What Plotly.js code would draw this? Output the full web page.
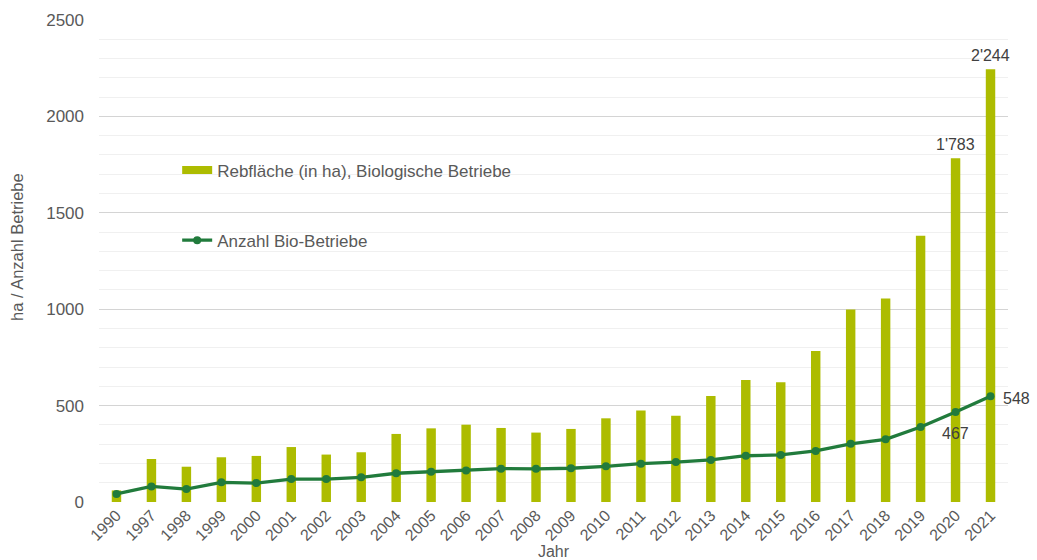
<!DOCTYPE html>
<html>
<head>
<meta charset="utf-8">
<script src="https://cdn.plot.ly/plotly-3.0.1.min.js"></script>
<style>html,body{margin:0;padding:0;background:#fff;}#chart{width:1037px;height:560px;}</style>
</head>
<body>
<div id="chart"></div>
<script>
const years = ['1990','1997','1998','1999','2000','2001','2002','2003','2004','2005','2006','2007','2008','2009','2010','2011','2012','2013','2014','2015','2016','2017','2018','2019','2020','2021'];
const rebflaeche = [60,223,183,232,239,285,246,258,353,382,401,384,360,379,434,474,448,550,633,621,783,998,1056,1381,1783,2244];
const betriebe = [42,81,67,102,98,119,119,128,149,157,164,173,172,175,185,199,207,218,240,244,265,302,325,389,467,548];
const barName = 'Rebfläche (in ha), Biologische Betriebe';
const lineName = 'Anzahl Bio-Betriebe';
const yTitle = 'ha / Anzahl Betriebe';
const xTitle = 'Jahr';
const labelled = [
  {year: '2021', series: 'bar', text: "2'244"},
  {year: '2020', series: 'bar', text: "1'783"},
  {year: '2021', series: 'line', text: '548'},
  {year: '2020', series: 'line', text: '467'}
];

const grey = '#595959';
const barColor = '#adbc00';
const lineColor = '#217b3c';
const font = {family: 'Liberation Sans, Arial, sans-serif', size: 17, color: grey};

const traces = [
  {type: 'bar', x: years, y: rebflaeche, name: barName, showlegend: false,
   marker: {color: barColor}, width: 0.27},
  {type: 'scatter', mode: 'lines', x: [null], y: [null], name: barName, legendgroup: 'a',
   line: {color: barColor, width: 8}},
  {type: 'scatter', mode: 'lines+markers', x: years, y: betriebe, name: lineName, legendgroup: 'b',
   line: {color: lineColor, width: 3.3}, marker: {color: lineColor, size: 8}}
];

const annotations = labelled.map(l => {
  const i = years.indexOf(l.year);
  if (l.series === 'bar') {
    return {x: i, y: rebflaeche[i], text: l.text, showarrow: false, yanchor: 'bottom', yshift: 3,
            font: {size: 16, color: '#404040'}};
  }
  if (l.year === '2021') {
    return {x: i, y: betriebe[i], text: l.text, showarrow: false, xanchor: 'left', xshift: 10, yshift: -2,
            font: {size: 16, color: '#404040'}};
  }
  return {x: i, y: betriebe[i], text: l.text, showarrow: false, yanchor: 'top', yshift: -11,
          font: {size: 16, color: '#404040'}};
});
annotations.push({xref: 'paper', yref: 'paper', x: -0.0902, y: 0.529, text: yTitle, textangle: -90,
                  showarrow: false, xanchor: 'center', yanchor: 'middle',
                  font: {size: 16.5, color: grey}});

const layout = {
  width: 1037, height: 560,
  margin: {l: 99, r: 29, t: 20, b: 58},
  paper_bgcolor: '#fff', plot_bgcolor: '#fff',
  font: font,
  showlegend: true,
  legend: {x: 0.086, y: 0.725, xanchor: 'left', yanchor: 'top', bgcolor: 'rgba(0,0,0,0)',
           font: {family: font.family, size: 17, color: grey}, tracegroupgap: 45, itemwidth: 30},
  xaxis: {type: 'category', range: [-0.5, years.length - 0.5], tickangle: -45,
          tickfont: {size: 16, color: grey},
          showgrid: false, showline: false, ticks: '', zeroline: false,
          title: {text: xTitle, font: {size: 16, color: grey}, standoff: 0}},
  yaxis: {range: [0, 2500], dtick: 500, tickfont: {size: 17, color: grey},
          showgrid: true, gridcolor: '#d4d4d4', gridwidth: 1, zeroline: false, showline: false,
          ticks: '', ticklabelstandoff: 14,
          minor: {dtick: 100, showgrid: true, gridcolor: '#f0f0f0', gridwidth: 1}},
  annotations: annotations
};

Plotly.newPlot('chart', traces, layout, {displayModeBar: false, staticPlot: true});
</script>
</body>
</html>
